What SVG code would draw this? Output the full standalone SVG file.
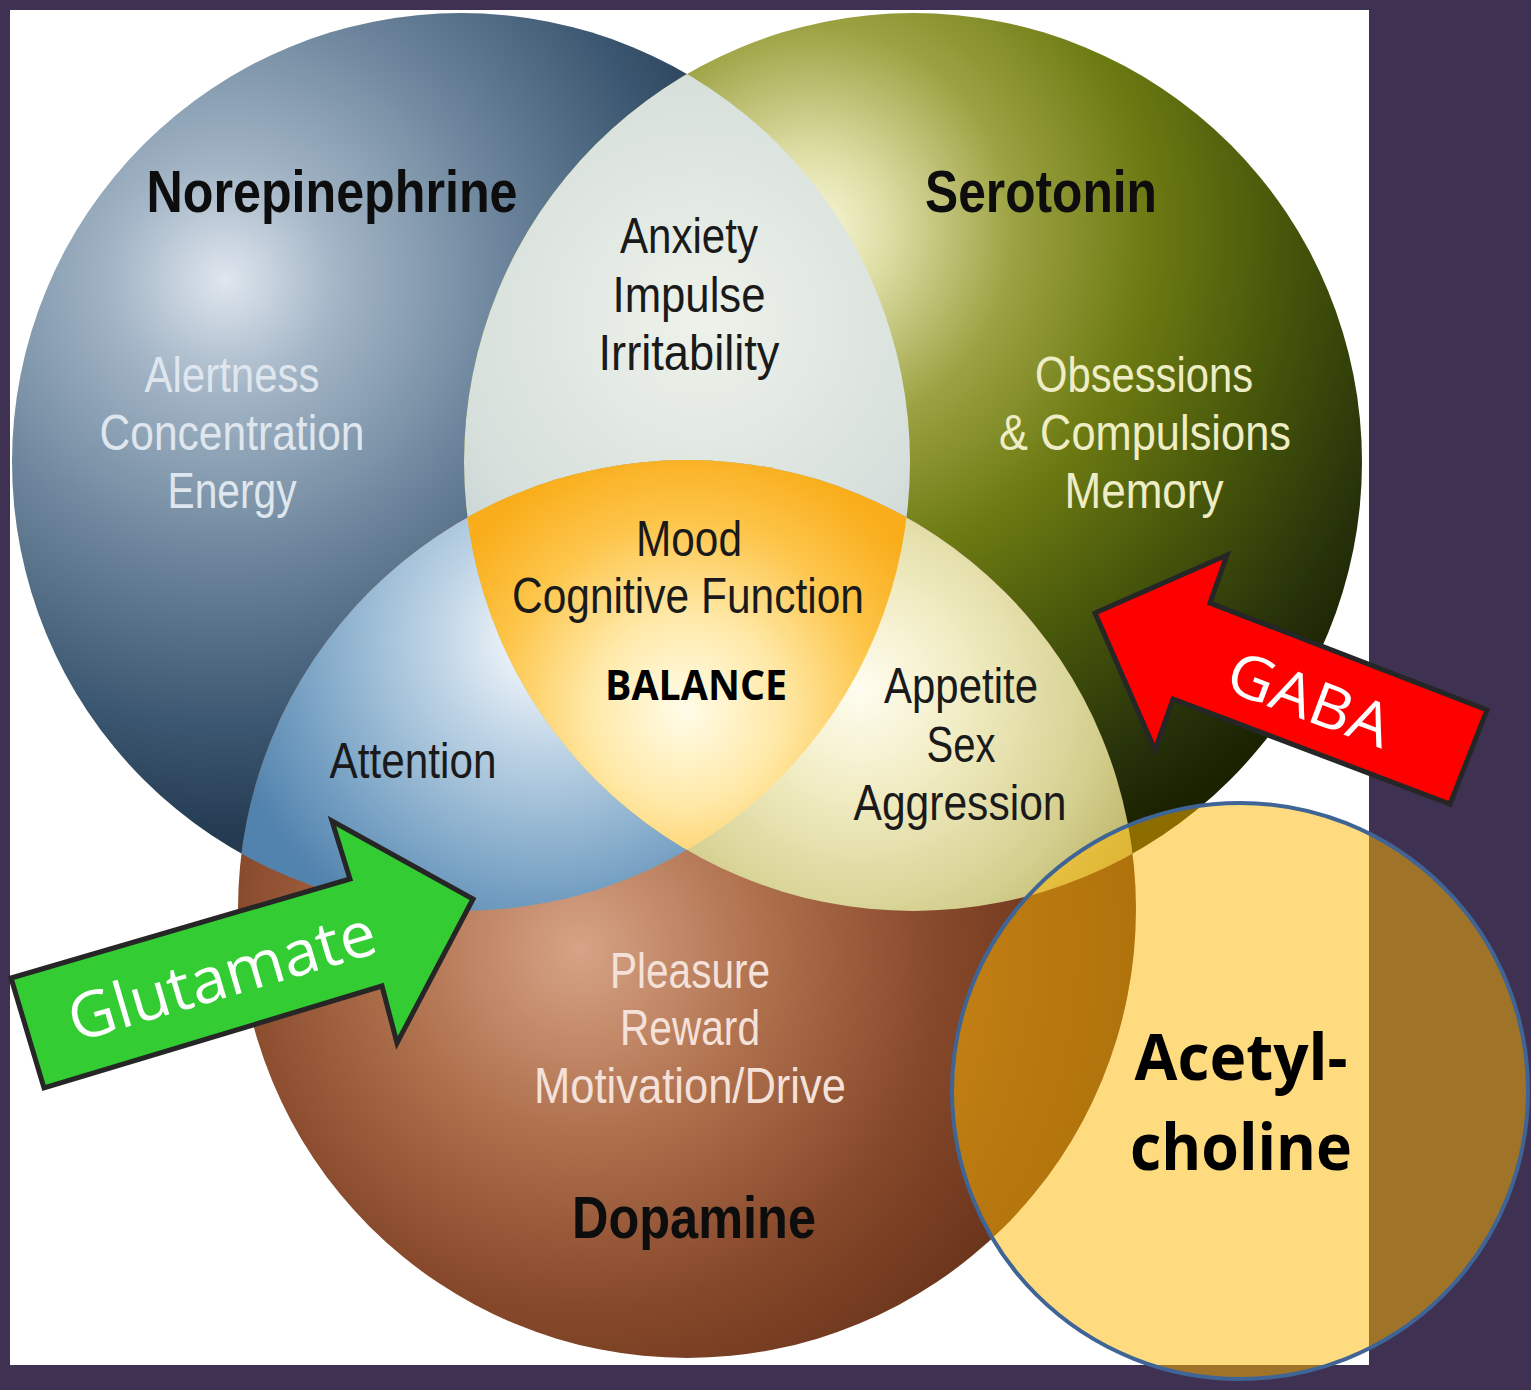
<svg xmlns="http://www.w3.org/2000/svg" width="1531" height="1390" viewBox="0 0 1531 1390">
  <style>
    .lbl { font-family: "Liberation Sans", Arial, sans-serif; font-weight: bold; font-size: 60px; fill: #0d0d0d; text-anchor: middle; }
    .txt { font-family: "Liberation Sans", Arial, sans-serif; font-size: 50px; text-anchor: middle; }
    .dark { fill: #1a1a1a; }
    .ne-txt { fill: #dfe6ee; }
    .se-txt { fill: #eeedc6; }
    .do-txt { fill: #f4e2da; }
    .cal { font-family: "Open Sans", "Noto Sans", sans-serif; text-anchor: middle; }
    .arrow { stroke: #262626; stroke-width: 5; stroke-linejoin: miter; }
  </style>
  <defs>
    <clipPath id="clipNE"><circle cx="461" cy="462" r="449"/></clipPath>
    <clipPath id="clipSer"><circle cx="913" cy="462" r="449"/></clipPath>

    <radialGradient id="gNE" gradientUnits="userSpaceOnUse" cx="225" cy="280" r="560">
      <stop offset="0" stop-color="#dfe6ee"/>
      <stop offset="0.2" stop-color="#a3b5c6"/>
      <stop offset="0.5" stop-color="#6c859c"/>
      <stop offset="0.8" stop-color="#3b5670"/>
      <stop offset="1" stop-color="#233a50"/>
    </radialGradient>
    <radialGradient id="gSer" gradientUnits="userSpaceOnUse" cx="810" cy="230" r="680">
      <stop offset="0" stop-color="#fbf9dc"/>
      <stop offset="0.12" stop-color="#dcdca2"/>
      <stop offset="0.3" stop-color="#9ca242"/>
      <stop offset="0.5" stop-color="#6c7a12"/>
      <stop offset="0.7" stop-color="#46560a"/>
      <stop offset="0.9" stop-color="#26310a"/>
      <stop offset="1" stop-color="#1a2200"/>
    </radialGradient>
    <radialGradient id="gDop" gradientUnits="userSpaceOnUse" cx="580" cy="950" r="600">
      <stop offset="0" stop-color="#d6a386"/>
      <stop offset="0.3" stop-color="#b0714e"/>
      <stop offset="0.6" stop-color="#86482a"/>
      <stop offset="1" stop-color="#582812"/>
    </radialGradient>
    <radialGradient id="gAnx" gradientUnits="userSpaceOnUse" cx="700" cy="320" r="420">
      <stop offset="0" stop-color="#eef2ea"/>
      <stop offset="0.6" stop-color="#d6dfdb"/>
      <stop offset="1" stop-color="#b6c6cc"/>
    </radialGradient>
    <radialGradient id="gAtt" gradientUnits="userSpaceOnUse" cx="545" cy="640" r="330">
      <stop offset="0" stop-color="#ffffff"/>
      <stop offset="0.3" stop-color="#c4d8e8"/>
      <stop offset="0.7" stop-color="#80a8c8"/>
      <stop offset="1" stop-color="#5283ae"/>
    </radialGradient>
    <radialGradient id="gApp" gradientUnits="userSpaceOnUse" cx="860" cy="690" r="320">
      <stop offset="0" stop-color="#fffdf0"/>
      <stop offset="0.35" stop-color="#f0ebc0"/>
      <stop offset="0.75" stop-color="#d4cf8e"/>
      <stop offset="1" stop-color="#bbb468"/>
    </radialGradient>
    <radialGradient id="gMid" gradientUnits="userSpaceOnUse" cx="685" cy="710" r="270">
      <stop offset="0" stop-color="#fffce8"/>
      <stop offset="0.35" stop-color="#ffe9a8"/>
      <stop offset="0.7" stop-color="#fdc54a"/>
      <stop offset="1" stop-color="#f9ad1a"/>
    </radialGradient>
  </defs>

  <!-- page background and white panel -->
  <rect x="0" y="0" width="1531" height="1390" fill="#3f3152"/>
  <rect x="10" y="10" width="1359" height="1355" fill="#ffffff"/>

  <!-- the three main circles -->
  <g id="norepinephrine">
    <circle cx="461" cy="462" r="449" fill="url(#gNE)"/>
  </g>
  <g id="serotonin">
    <circle cx="913" cy="462" r="449" fill="url(#gSer)"/>
  </g>
  <g id="dopamine">
    <circle cx="687" cy="909" r="449" fill="url(#gDop)"/>
  </g>

  <!-- pairwise overlaps -->
  <g id="overlap-ne-ser">
    <circle cx="913" cy="462" r="449" fill="url(#gAnx)" clip-path="url(#clipNE)"/>
  </g>
  <g id="overlap-ne-dop">
    <circle cx="687" cy="909" r="449" fill="url(#gAtt)" clip-path="url(#clipNE)"/>
  </g>
  <g id="overlap-ser-dop">
    <circle cx="687" cy="909" r="449" fill="url(#gApp)" clip-path="url(#clipSer)"/>
  </g>
  <!-- centre: all three -->
  <g id="balance">
    <g clip-path="url(#clipSer)">
      <circle cx="687" cy="909" r="449" fill="url(#gMid)" clip-path="url(#clipNE)"/>
    </g>
  </g>

  <!-- labels -->
  <g id="labels">
    <text class="lbl" x="332" y="212" textLength="371" lengthAdjust="spacingAndGlyphs">Norepinephrine</text>
    <text class="lbl" x="1041" y="212" textLength="232" lengthAdjust="spacingAndGlyphs">Serotonin</text>
    <text class="lbl" x="694" y="1238" textLength="244" lengthAdjust="spacingAndGlyphs">Dopamine</text>

    <text class="txt dark" x="689" y="253" textLength="138" lengthAdjust="spacingAndGlyphs">Anxiety</text>
    <text class="txt dark" x="689" y="312" textLength="153" lengthAdjust="spacingAndGlyphs">Impulse</text>
    <text class="txt dark" x="689" y="370" textLength="181" lengthAdjust="spacingAndGlyphs">Irritability</text>

    <text class="txt ne-txt" x="232" y="392" textLength="175" lengthAdjust="spacingAndGlyphs">Alertness</text>
    <text class="txt ne-txt" x="232" y="450" textLength="265" lengthAdjust="spacingAndGlyphs">Concentration</text>
    <text class="txt ne-txt" x="232" y="508" textLength="129" lengthAdjust="spacingAndGlyphs">Energy</text>

    <text class="txt se-txt" x="1144" y="392" textLength="218" lengthAdjust="spacingAndGlyphs">Obsessions</text>
    <text class="txt se-txt" x="1145" y="450" textLength="292" lengthAdjust="spacingAndGlyphs">&amp; Compulsions</text>
    <text class="txt se-txt" x="1144" y="508" textLength="159" lengthAdjust="spacingAndGlyphs">Memory</text>

    <text class="txt dark" x="689" y="556" textLength="106" lengthAdjust="spacingAndGlyphs">Mood</text>
    <text class="txt dark" x="688" y="613" textLength="352" lengthAdjust="spacingAndGlyphs">Cognitive Function</text>
    <text class="cal" x="696" y="700" font-size="41" font-weight="bold" fill="#000" textLength="182" lengthAdjust="spacingAndGlyphs">BALANCE</text>

    <text class="txt dark" x="413" y="778" textLength="167" lengthAdjust="spacingAndGlyphs">Attention</text>

    <text class="txt dark" x="961" y="703" textLength="154" lengthAdjust="spacingAndGlyphs">Appetite</text>
    <text class="txt dark" x="961" y="762" textLength="69" lengthAdjust="spacingAndGlyphs">Sex</text>
    <text class="txt dark" x="960" y="820" textLength="213" lengthAdjust="spacingAndGlyphs">Aggression</text>

    <text class="txt do-txt" x="690" y="988" textLength="160" lengthAdjust="spacingAndGlyphs">Pleasure</text>
    <text class="txt do-txt" x="690" y="1045" textLength="140" lengthAdjust="spacingAndGlyphs">Reward</text>
    <text class="txt do-txt" x="690" y="1103" textLength="312" lengthAdjust="spacingAndGlyphs">Motivation/Drive</text>
  </g>

  <!-- GABA arrow -->
  <g id="gaba">
    <polygon class="arrow" fill="#ff0000" points="1095,613 1227,555 1210,603 1487,710 1450,804 1173,699 1155,750"/>
    <text class="cal" transform="translate(1302,719) rotate(20.5)" x="0" y="0" font-size="60" fill="#ffffff" textLength="170" lengthAdjust="spacingAndGlyphs">GABA</text>
  </g>

  <!-- Glutamate arrow -->
  <g id="glutamate">
    <polygon class="arrow" fill="#33cc33" points="473,899 397,1043 382,986 44,1088 11,978 350,879 332,821"/>
    <text class="cal" transform="translate(228,997) rotate(-16.5)" x="0" y="0" font-size="63" fill="#ffffff" textLength="318" lengthAdjust="spacingAndGlyphs">Glutamate</text>
  </g>

  <!-- Acetylcholine -->
  <g id="acetylcholine">
    <circle cx="1240" cy="1091" r="288" fill="#ffb800" fill-opacity="0.5" stroke="#3f6496" stroke-width="4"/>
    <text class="cal" x="1241" y="1080" font-size="64" font-weight="bold" fill="#000" textLength="213" lengthAdjust="spacingAndGlyphs">Acetyl-</text>
    <text class="cal" x="1241" y="1170" font-size="64" font-weight="bold" fill="#000" textLength="222" lengthAdjust="spacingAndGlyphs">choline</text>
  </g>
</svg>
